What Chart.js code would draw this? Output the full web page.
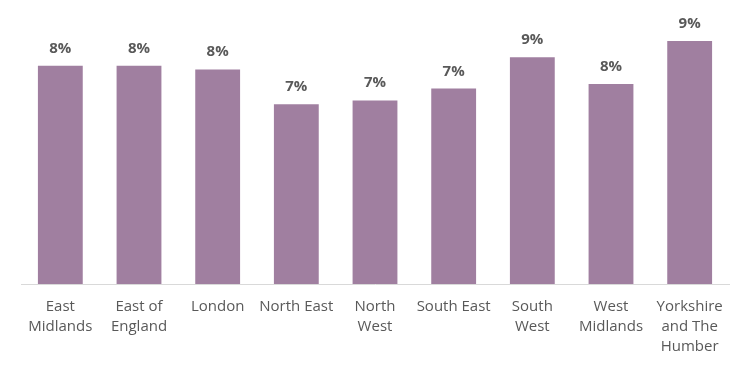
<!DOCTYPE html>
<html>
<head>
<meta charset="utf-8">
<script src="https://cdn.jsdelivr.net/npm/chart.js@4.4.1/dist/chart.umd.min.js"></script>
<style>
  html, body { margin: 0; padding: 0; background: #ffffff; }
  #wrap { width: 750px; height: 367px; position: relative; }
</style>
</head>
<body>
<div id="wrap"><canvas id="c" width="750" height="367"></canvas></div>
<script>
const categories = [
  ["East", "Midlands"],
  ["East of", "England"],
  ["London"],
  ["North East"],
  ["North", "West"],
  ["South East"],
  ["South", "West"],
  ["West", "Midlands"],
  ["Yorkshire", "and The", "Humber"]
];
const values = [8.30, 8.30, 8.16, 6.83, 6.98, 7.43, 8.62, 7.60, 9.24];
const yMin = 0;
const yMax = 10;

const labelPlugin = {
  id: 'barLabels',
  afterDatasetsDraw(chart) {
    const ctx = chart.ctx;
    const meta = chart.getDatasetMeta(0);
    ctx.save();
    ctx.font = 'bold 15px "Open Sans", sans-serif';
    ctx.fillStyle = '#595959';
    ctx.textAlign = 'center';
    ctx.textBaseline = 'alphabetic';
    meta.data.forEach((bar, i) => {
      ctx.fillText(Math.round(values[i]) + '%', bar.x, bar.y - 13);
    });
    ctx.restore();
  }
};

new Chart(document.getElementById('c'), {
  type: 'bar',
  data: {
    labels: categories,
    datasets: [{
      data: values,
      backgroundColor: '#a07fa0',
      borderWidth: 0,
      barPercentage: 0.57,
      categoryPercentage: 1.0
    }]
  },
  options: {
    responsive: false,
    animation: false,
    devicePixelRatio: 1,
    layout: { padding: { left: 21, right: 21, top: 21, bottom: 0 } },
    plugins: { legend: { display: false }, tooltip: { enabled: false } },
    scales: {
      x: {
        grid: { display: false, drawTicks: false },
        border: { display: true, color: '#d9d9d9', width: 1 },
        afterFit(scale) { scale.height = 83; },
        ticks: {
          autoSkip: false,
          maxRotation: 0,
          padding: 13,
          color: '#595959',
          font: { family: '"Open Sans", sans-serif', size: 15, lineHeight: '20px' }
        }
      },
      y: {
        display: false,
        min: yMin,
        max: yMax
      }
    }
  },
  plugins: [labelPlugin]
});
</script>
</body>
</html>
